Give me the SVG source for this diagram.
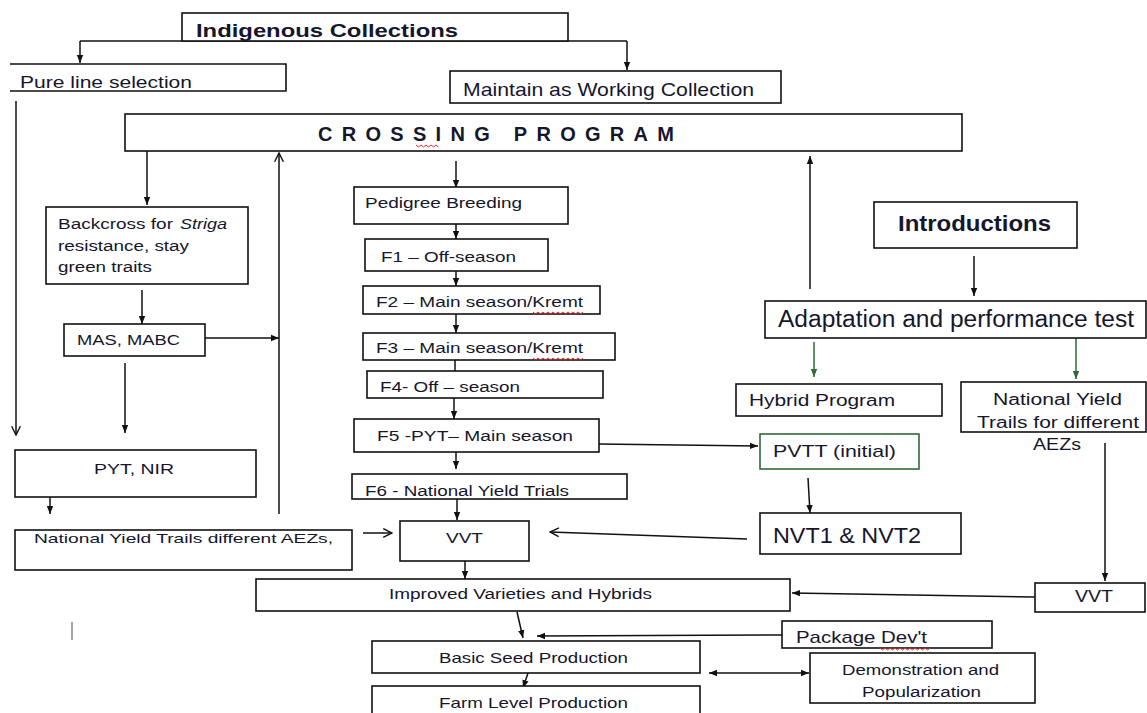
<svg xmlns="http://www.w3.org/2000/svg" width="1147" height="713" viewBox="0 0 1147 713">
<style>
.b{fill:#fff;stroke:#111;stroke-width:1.6}
.g{fill:#fff;stroke:#2f6b35;stroke-width:1.6}
.t{font-family:"Liberation Sans",Arial,sans-serif;fill:#16162c}
.bd{font-weight:bold}
.c{fill:none;stroke:#111;stroke-width:1.5}
.cg{fill:none;stroke:#2f6b35;stroke-width:1.5}
.sq{fill:none;stroke:#e0302a;stroke-width:1}
</style>
<defs>
<marker id="ah" viewBox="0 0 10 10" refX="10" refY="5" markerWidth="8" markerHeight="8" markerUnits="userSpaceOnUse" orient="auto-start-reverse"><path d="M0,1 L10,5 L0,9 z" fill="#111"/></marker>
<marker id="ahg" viewBox="0 0 10 10" refX="10" refY="5" markerWidth="8" markerHeight="8" markerUnits="userSpaceOnUse" orient="auto"><path d="M0,1 L10,5 L0,9 z" fill="#2f6b35"/></marker>
<marker id="oh" viewBox="0 0 10 10" refX="9" refY="5" markerWidth="11" markerHeight="11" markerUnits="userSpaceOnUse" orient="auto"><path d="M1,1 L9,5 L1,9" fill="none" stroke="#111" stroke-width="1.3"/></marker>
</defs>

<g id="connectors">
<path class="c" d="M80,41 H627"/>
<path class="c" d="M80,41 V63" marker-end="url(#ah)"/>
<path class="c" d="M627,41 V70" marker-end="url(#ah)"/>
<path class="c" d="M16,101 V435" marker-end="url(#oh)"/>
<path class="c" d="M147,151 V205" marker-end="url(#ah)"/>
<path class="c" d="M279,514 V153" marker-end="url(#oh)"/>
<path class="c" d="M142,290 V324" marker-end="url(#ah)"/>
<path class="c" d="M205,338 H279" marker-end="url(#ah)"/>
<path class="c" d="M125,363 V433" marker-end="url(#ah)"/>
<path class="c" d="M50,488 V514" marker-end="url(#ah)"/>
<path class="c" d="M456,161 V188" marker-end="url(#ah)"/>
<path class="c" d="M456,224 V239" marker-end="url(#ah)"/>
<path class="c" d="M456,266 V286" marker-end="url(#ah)"/>
<path class="c" d="M456,314 V333" marker-end="url(#ah)"/>
<path class="c" d="M455,360 V380" marker-end="url(#ah)"/>
<path class="c" d="M454,398 V419" marker-end="url(#ah)"/>
<path class="c" d="M456,452 V469" marker-end="url(#ah)"/>
<path class="c" d="M457,499 V520" marker-end="url(#ah)"/>
<path class="c" d="M363,533 H392" marker-end="url(#oh)"/>
<path class="c" d="M747,539 L550,532" marker-end="url(#oh)"/>
<path class="c" d="M465,561 V579" marker-end="url(#ah)"/>
<path class="c" d="M599,444 L758,446" marker-end="url(#ah)"/>
<path class="c" d="M808,478 L810,513" marker-end="url(#ah)"/>
<path class="c" d="M810,289 V156" marker-end="url(#ah)"/>
<path class="c" d="M974,256 V296" marker-end="url(#ah)"/>
<path class="cg" d="M814,342 V377" marker-end="url(#ahg)"/>
<path class="cg" d="M1076,338 V379" marker-end="url(#ahg)"/>
<path class="c" d="M1105,443 V581" marker-end="url(#ah)"/>
<path class="c" d="M1035,597 L792,593" marker-end="url(#ah)"/>
<path class="c" d="M517,612 L523,638" marker-end="url(#ah)"/>
<path class="c" d="M782,635 L537,636" marker-end="url(#ah)"/>
<path class="c" d="M528,673 L523,688" marker-end="url(#ah)"/>
<path class="c" d="M709,673 H809" marker-start="url(#ah)" marker-end="url(#ah)"/>
</g>

<g id="indigenous">
<rect class="b" x="182" y="13" width="386" height="28"/>
<text class="t bd" x="196" y="37" font-size="19" textLength="262" lengthAdjust="spacingAndGlyphs">Indigenous Collections</text>
</g>
<g id="pureline">
<path class="b" d="M10,64 H286 V91 H10"/>
<text class="t" x="20" y="88" font-size="17" textLength="172" lengthAdjust="spacingAndGlyphs">Pure line selection</text>
</g>
<g id="maintain">
<rect class="b" x="450" y="71" width="331" height="32"/>
<text class="t" x="463" y="96" font-size="19" textLength="291" lengthAdjust="spacingAndGlyphs">Maintain as Working Collection</text>
</g>
<g id="crossing">
<rect class="b" x="125" y="114" width="837" height="37"/>
<text class="t bd" x="318" y="141" font-size="20" textLength="356" lengthAdjust="spacing">CROSSING PROGRAM</text>
<path class="sq" d="M416,145 l2.5,2 l2.5,-2 l2.5,2 l2.5,-2 l2.5,2 l2.5,-2 l2.5,2 l2.5,-2 l2.5,2"/>
</g>
<g id="backcross">
<rect class="b" x="46" y="207" width="202" height="77"/>
<text class="t" x="58" y="229" font-size="14" textLength="115" lengthAdjust="spacingAndGlyphs">Backcross for</text>
<text class="t" x="180" y="229" font-size="14" font-style="italic" textLength="47" lengthAdjust="spacingAndGlyphs">Striga</text>
<text class="t" x="58" y="251" font-size="14" textLength="131" lengthAdjust="spacingAndGlyphs">resistance, stay</text>
<text class="t" x="58" y="272" font-size="14" textLength="94" lengthAdjust="spacingAndGlyphs">green traits</text>
</g>
<g id="mas">
<rect class="b" x="64" y="324" width="141" height="32"/>
<text class="t" x="77" y="345" font-size="15" textLength="103" lengthAdjust="spacingAndGlyphs">MAS, MABC</text>
</g>
<g id="pytnir">
<rect class="b" x="15" y="450" width="241" height="47"/>
<text class="t" x="94" y="474" font-size="15" textLength="80" lengthAdjust="spacingAndGlyphs">PYT, NIR</text>
</g>
<g id="nyt-left">
<rect class="b" x="15" y="530" width="337" height="40"/>
<text class="t" x="34" y="543" font-size="13.5" textLength="299" lengthAdjust="spacingAndGlyphs">National Yield Trails  different AEZs,</text>
</g>
<g id="pedigree">
<rect class="b" x="354" y="187" width="214" height="37"/>
<text class="t" x="365" y="208" font-size="14.5" textLength="157" lengthAdjust="spacingAndGlyphs">Pedigree Breeding</text>
</g>
<g id="f1">
<rect class="b" x="365" y="239" width="183" height="32"/>
<text class="t" x="381" y="262" font-size="14" textLength="135" lengthAdjust="spacingAndGlyphs">F1 – Off-season</text>
</g>
<g id="f2">
<rect class="b" x="363" y="286" width="237" height="28"/>
<text class="t" x="376" y="307" font-size="14" textLength="207" lengthAdjust="spacingAndGlyphs">F2 – Main season/Kremt</text>
<path class="sq" d="M533,312 l2.5,2 l2.5,-2 l2.5,2 l2.5,-2 l2.5,2 l2.5,-2 l2.5,2 l2.5,-2 l2.5,2 l2.5,-2 l2.5,2 l2.5,-2 l2.5,2 l2.5,-2 l2.5,2 l2.5,-2 l2.5,2 l2.5,-2 l2.5,2 l2.5,-2"/>
</g>
<g id="f3">
<rect class="b" x="363" y="333" width="252" height="27"/>
<text class="t" x="376" y="353" font-size="14" textLength="207" lengthAdjust="spacingAndGlyphs">F3 – Main season/Kremt</text>
<path class="sq" d="M533,358 l2.5,2 l2.5,-2 l2.5,2 l2.5,-2 l2.5,2 l2.5,-2 l2.5,2 l2.5,-2 l2.5,2 l2.5,-2 l2.5,2 l2.5,-2 l2.5,2 l2.5,-2 l2.5,2 l2.5,-2 l2.5,2 l2.5,-2 l2.5,2 l2.5,-2"/>
</g>
<g id="f4">
<rect class="b" x="367" y="371" width="236" height="27"/>
<text class="t" x="380" y="392" font-size="14" textLength="140" lengthAdjust="spacingAndGlyphs">F4- Off – season</text>
</g>
<g id="f5">
<rect class="b" x="354" y="419" width="245" height="33"/>
<text class="t" x="377" y="441" font-size="14" textLength="196" lengthAdjust="spacingAndGlyphs">F5 -PYT– Main season</text>
</g>
<g id="f6">
<rect class="b" x="352" y="474" width="275" height="25"/>
<text class="t" x="365" y="496" font-size="14" textLength="204" lengthAdjust="spacingAndGlyphs">F6 - National Yield Trials</text>
</g>
<g id="vvt-center">
<rect class="b" x="400" y="521" width="129" height="40"/>
<text class="t" x="446" y="543" font-size="15" textLength="37" lengthAdjust="spacingAndGlyphs">VVT</text>
</g>
<g id="improved">
<rect class="b" x="256" y="579" width="534" height="32"/>
<text class="t" x="389" y="599" font-size="14" textLength="263" lengthAdjust="spacingAndGlyphs">Improved Varieties and Hybrids</text>
</g>
<g id="basic">
<rect class="b" x="372" y="641" width="328" height="32"/>
<text class="t" x="439" y="663" font-size="15" textLength="189" lengthAdjust="spacingAndGlyphs">Basic Seed Production</text>
</g>
<g id="farm">
<rect class="b" x="372" y="686" width="328" height="40"/>
<text class="t" x="439" y="708" font-size="15" textLength="189" lengthAdjust="spacingAndGlyphs">Farm Level Production</text>
</g>
<g id="package">
<rect class="b" x="782" y="621" width="210" height="27"/>
<text class="t" x="796" y="643" font-size="17" textLength="131" lengthAdjust="spacingAndGlyphs">Package Dev't</text>
<path class="sq" d="M880,648 l2.5,2 l2.5,-2 l2.5,2 l2.5,-2 l2.5,2 l2.5,-2 l2.5,2 l2.5,-2 l2.5,2 l2.5,-2 l2.5,2 l2.5,-2 l2.5,2 l2.5,-2 l2.5,2 l2.5,-2 l2.5,2 l2.5,-2 l2.5,2 l2.5,-2"/>
</g>
<g id="demo">
<rect class="b" x="810" y="653" width="225" height="50"/>
<text class="t" x="842" y="675" font-size="14" textLength="157" lengthAdjust="spacingAndGlyphs">Demonstration and</text>
<text class="t" x="862" y="697" font-size="14" textLength="119" lengthAdjust="spacingAndGlyphs">Popularization</text>
</g>
<g id="introductions">
<rect class="b" x="874" y="202" width="203" height="46"/>
<text class="t bd" x="898" y="231" font-size="22" textLength="153" lengthAdjust="spacingAndGlyphs">Introductions</text>
</g>
<g id="adaptation">
<rect class="b" x="765" y="301" width="381" height="37"/>
<text class="t" x="778" y="327" font-size="23" textLength="356" lengthAdjust="spacingAndGlyphs">Adaptation and performance test</text>
</g>
<g id="hybrid">
<rect class="b" x="736" y="384" width="206" height="32"/>
<text class="t" x="749" y="406" font-size="16" textLength="146" lengthAdjust="spacingAndGlyphs">Hybrid Program</text>
</g>
<g id="nyt-right">
<rect class="b" x="961" y="382" width="185" height="50"/>
<text class="t" x="993" y="405" font-size="16" textLength="129" lengthAdjust="spacingAndGlyphs">National Yield</text>
<text class="t" x="977" y="428" font-size="16" textLength="162" lengthAdjust="spacingAndGlyphs">Trails for different</text>
<text class="t" x="1033" y="450" font-size="16" textLength="48" lengthAdjust="spacingAndGlyphs">AEZs</text>
</g>
<g id="pvtt">
<rect class="g" x="760" y="434" width="159" height="35"/>
<text class="t" x="773" y="457" font-size="17" textLength="123" lengthAdjust="spacingAndGlyphs">PVTT (initial)</text>
</g>
<g id="nvt">
<rect class="b" x="760" y="513" width="201" height="41"/>
<text class="t" x="773" y="543" font-size="22" textLength="148" lengthAdjust="spacingAndGlyphs">NVT1 &amp; NVT2</text>
</g>
<g id="vvt-right">
<rect class="b" x="1035" y="583" width="110" height="29"/>
<text class="t" x="1075" y="602" font-size="16" textLength="38" lengthAdjust="spacingAndGlyphs">VVT</text>
</g>
<path d="M72,622 V640" stroke="#999" stroke-width="1.8"/>
</svg>
